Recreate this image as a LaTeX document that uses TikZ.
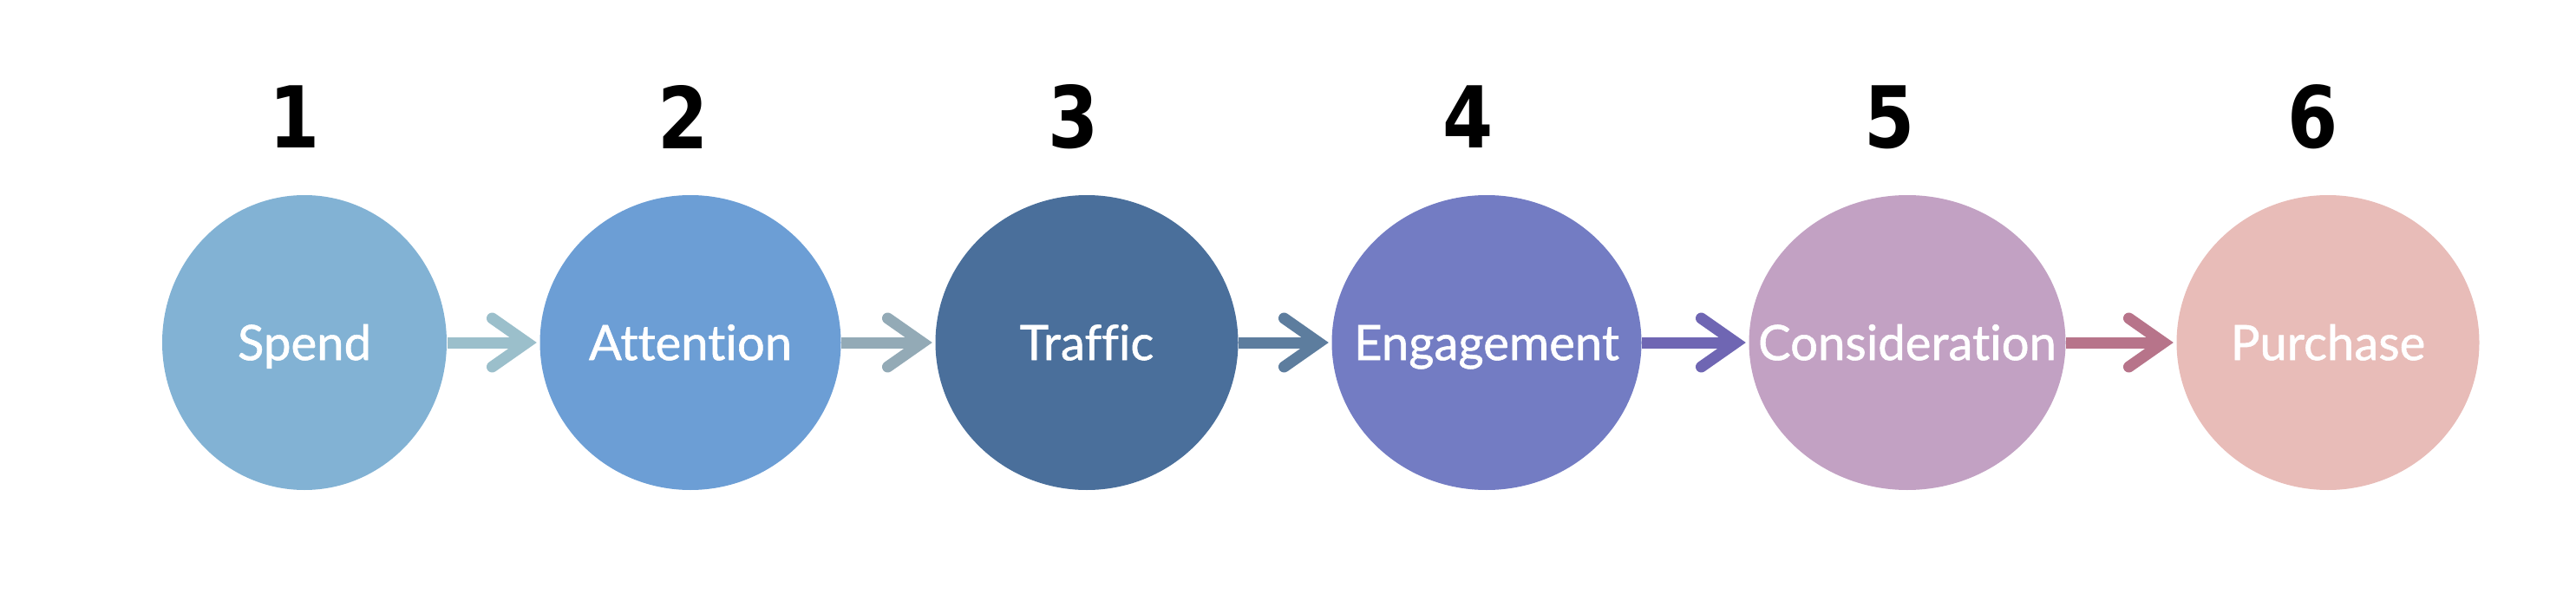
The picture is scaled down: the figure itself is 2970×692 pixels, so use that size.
\documentclass[tikz,border=0pt]{standalone}
\usepackage{fontspec}
\usepackage{tikz}
\usetikzlibrary{arrows.meta,shapes.geometric}
\setmainfont{Lato}[Ligatures=NoCommon]
\newfontfamily\stagefont[Ligatures=NoCommon, FakeBold=1]{Lato}
\newfontfamily\numfont[FakeStretch=0.85]{DejaVu Sans}

\definecolor{stage1}{HTML}{82B2D4}
\definecolor{stage2}{HTML}{6C9ED5}
\definecolor{stage3}{HTML}{4A6F9B}
\definecolor{stage4}{HTML}{737CC3}
\definecolor{stage5}{HTML}{C2A1C3}
\definecolor{stage6}{HTML}{E8BCB8}
\definecolor{arrow1}{HTML}{9BBFCB}
\definecolor{arrow2}{HTML}{93AAB6}
\definecolor{arrow3}{HTML}{5D7D9E}
\definecolor{arrow4}{HTML}{6F66B3}
\definecolor{arrow5}{HTML}{B7748A}

\begin{document}
\begin{tikzpicture}[x=0.1mm, y=-0.1mm,
    stage/.style={ellipse, minimum height=34mm, inner sep=0pt},
    stagetext/.style={text=white, inner sep=0pt,
        font=\stagefont\fontsize{16}{20}\selectfont, text height=11.5pt, text depth=0pt},
    stepnum/.style={font=\numfont\bfseries\fontsize{28}{30}\selectfont},
    flow/.style={line width=1.3mm,
        -{Straight Barb[length=4mm, width=5.6mm, line cap=round, line join=miter]},
        shorten >=0.3mm}]
    \useasboundingbox (0,0) rectangle (2970,692);

    % stages
    \foreach \i/\x/\w/\txt in {1/351/32.8/Spend, 2/796/34.7/Attention,
        3/1253/34.9/Traffic, 4/1714/35.7/Engagement,
        5/2199/36.5/Consideration, 6/2684/34.9/Purchase}
        \node[stage, fill=stage\i, minimum width=\w mm,
            label={[stagetext]center:\txt}] (c\i) at (\x,395) {};

    % step numbers
    \foreach \i/\x in {1/340,2/788,3/1238,4/1693,5/2179,6/2667}
        \node[stepnum] (n\i) at (\x,135) {\i};

    % arrows
    \foreach \i/\j in {1/2,2/3,3/4,4/5,5/6}
        \draw[flow, arrow\i] (c\i) -- (c\j);
\end{tikzpicture}
\end{document}
